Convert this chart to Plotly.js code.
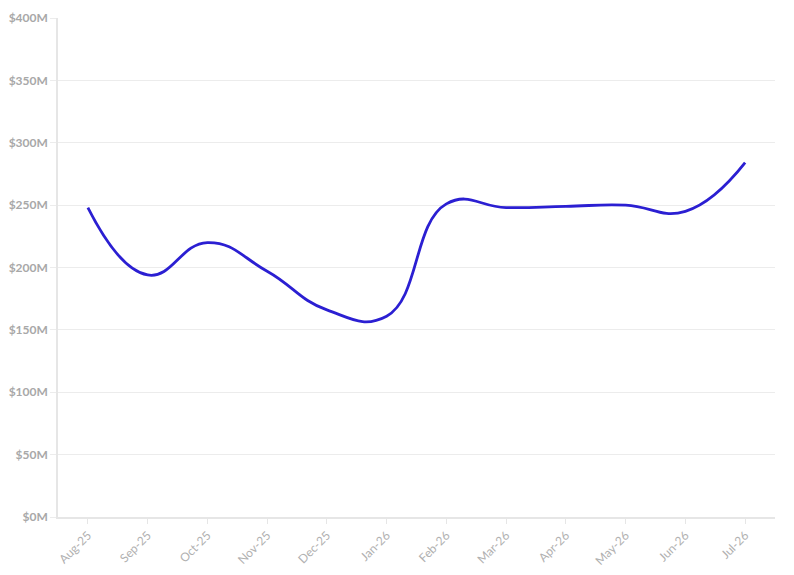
<!DOCTYPE html>
<html>
<head>
<meta charset="utf-8">
<script src="https://cdn.plot.ly/plotly-3.0.1.min.js"></script>
<style>
  html, body { margin: 0; padding: 0; background: #fff; }
  #graph { width: 794px; height: 575px; }
</style>
</head>
<body>
<div id="graph"></div>
<script>
// months on the x axis
const months = ["Aug-25", "Sep-25", "Oct-25", "Nov-25", "Dec-25", "Jan-26",
                "Feb-26", "Mar-26", "Apr-26", "May-26", "Jun-26", "Jul-26"];

// values in millions of dollars
const values = [248, 194, 220, 197, 166, 161, 251, 248, 249, 250, 245, 284];

// y axis ticks
const yTicks = [0, 50, 100, 150, 200, 250, 300, 350, 400];
const yTickLabels = ["$0M", "$50M", "$100M", "$150M", "$200M", "$250M", "$300M", "$350M", "$400M"];

document.addEventListener('DOMContentLoaded', function(event)
{
  displayPlot("graph");
});

function displayPlot(divPlot)
{
  let line = {
    x: months,
    y: values,
    type: 'scatter',
    mode: 'lines',
    line: { color: '#2b1fd2', width: 2.8, shape: 'spline', smoothing: 1.3 },
    hoverinfo: 'x+y'
  };

  let layout =
  {
    width: 794,
    height: 575,
    margin: { l: 58, r: 19, t: 18, b: 58 },
    paper_bgcolor: '#ffffff',
    plot_bgcolor: '#ffffff',
    showlegend: false,
    font: { family: 'Lato, "Open Sans", sans-serif', color: '#aaaaaa', size: 12 },

    xaxis:
    {
      type: 'category',
      range: [-0.5, 11.5],
      autorange: false,
      tickangle: -45,
      ticks: 'outside',
      ticklen: 5,
      tickcolor: '#e6e6e6',
      showgrid: false,
      showline: true,
      linecolor: '#e6e6e6',
      linewidth: 1.5,
      tickfont: { family: 'Lato, sans-serif', size: 12, color: '#b0b0b0' },
      fixedrange: true
    },
    yaxis:
    {
      range: [0, 400],
      autorange: false,
      tickmode: 'array',
      tickvals: yTicks,
      ticktext: yTickLabels,
      ticks: 'outside',
      ticklen: 6,
      tickcolor: '#ececec',
      showgrid: true,
      gridcolor: '#ececec',
      gridwidth: 1,
      zeroline: false,
      showline: true,
      linecolor: '#e6e6e6',
      linewidth: 1.5,
      tickfont: { family: 'Lato, sans-serif', size: 12, color: '#a8a8a8', weight: 'bold' },
      fixedrange: true
    },
    hovermode: "closest"
  };

  Plotly.newPlot(divPlot, [line], layout, { displayModeBar: false });
}
</script>
</body>
</html>
